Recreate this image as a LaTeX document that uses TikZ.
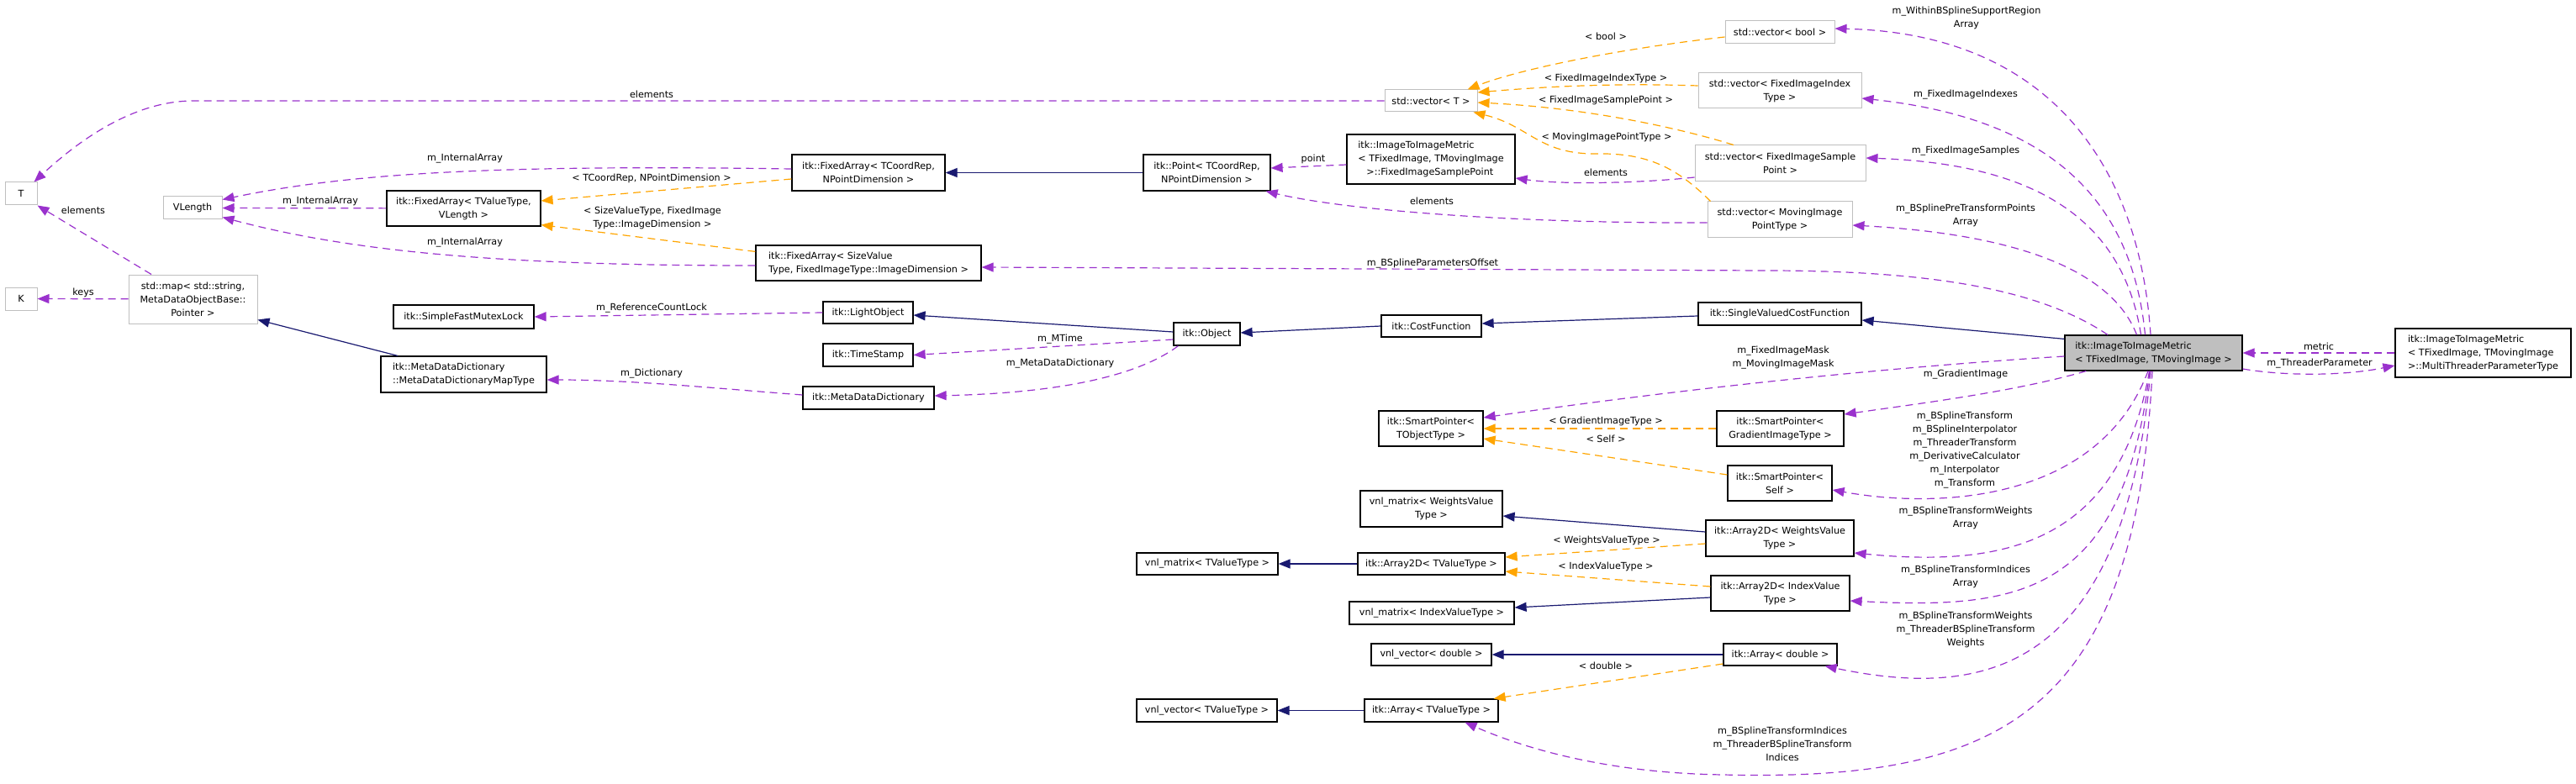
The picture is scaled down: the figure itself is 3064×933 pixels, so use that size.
\documentclass[tikz,border=0pt]{standalone}
\usepackage{fontspec}
\setmainfont{DejaVu Sans}
\usepackage{tikz}
\usetikzlibrary{arrows.meta}
\usepackage{xcolor}
\definecolor{usecol}{HTML}{9A32CD}
\definecolor{tplcol}{HTML}{FFA500}
\definecolor{inhcol}{HTML}{191970}
\definecolor{boxgray}{HTML}{BFBFBF}
\newcommand{\dgfont}{\fontsize{11.2}{16}\selectfont}

\begin{document}
\begin{tikzpicture}[x=1pt,y=-1pt,
  cls/.style={draw=black,line width=1.2pt,fill=white,font=\dgfont,align=center,inner xsep=2pt,inner ysep=0pt,minimum height=27pt},
  ext/.style={cls,draw=boxgray,line width=1pt},
  cur/.style={cls,fill=boxgray},
  lbl/.style={font=\dgfont,align=center,inner sep=0pt},
  usedge/.style={usecol,line width=1.2pt,dash pattern=on 9pt off 6pt,-{Triangle[length=14pt,width=11pt]}},
  tpledge/.style={usedge,tplcol},
  inhedge/.style={inhcol,line width=1.2pt,-{Triangle[length=14pt,width=11pt]}}]
  \useasboundingbox (0,0) rectangle (3064,933);

  % Left columns
  \node[ext,minimum width=38pt] (T) at (25,230.5) {T};
  \node[ext,minimum width=38pt] (K) at (25,355.5) {K};
  \node[ext,minimum width=70pt] (VL) at (229,247.5) {VLength};
  \node[ext,minimum width=153pt,minimum height=58pt] (map) at (229.5,356) {std::map< std::string,\\MetaDataObjectBase::\\Pointer >};
  \node[cls,minimum width=183pt,minimum height=42pt] (FAtv) at (551.5,248) {itk::FixedArray< TValueType,\\VLength >};
  \node[cls,minimum width=167pt,minimum height=28pt] (SFML) at (551.5,377) {itk::SimpleFastMutexLock};
  \node[cls,minimum width=197pt,minimum height=43pt,align=left] (MapT) at (551.5,445.5) {itk::MetaDataDictionary\\::MetaDataDictionaryMapType};
  \node[cls,minimum width=182pt,minimum height=43pt] (FAcr) at (1033,205.5) {itk::FixedArray< TCoordRep,\\NPointDimension >};
  \node[cls,minimum width=268pt,minimum height=42pt,align=left] (FAsv) at (1033,313) {itk::FixedArray< SizeValue\\Type, FixedImageType::ImageDimension >};
  \node[cls,minimum width=107pt,minimum height=26pt] (LO) at (1032.5,372) {itk::LightObject};
  \node[cls,minimum width=107pt] (TS) at (1032.5,422.5) {itk::TimeStamp};
  \node[cls,minimum width=156pt] (MDD) at (1033,473.5) {itk::MetaDataDictionary};

  % Middle columns
  \node[cls,minimum width=151pt,minimum height=43pt] (Pt) at (1435.5,205.5) {itk::Point< TCoordRep,\\NPointDimension >};
  \node[cls,minimum width=79pt] (Obj) at (1435.5,397.5) {itk::Object};
  \node[cls,minimum width=168pt,minimum height=26pt] (vmT) at (1436,671) {vnl\_matrix< TValueType >};
  \node[cls,minimum width=167pt] (vvT) at (1435.5,845.5) {vnl\_vector< TValueType >};
  \node[ext,minimum width=110pt,minimum height=26pt] (vecT) at (1702,120) {std::vector< T >};
  \node[cls,minimum width=200pt,minimum height=59pt,align=left] (FISP) at (1702,189.5) {itk::ImageToImageMetric\\< TFixedImage, TMovingImage\\\hspace*{0.9em}>::FixedImageSamplePoint};
  \node[cls,minimum width=119pt,minimum height=26pt] (CF) at (1702.5,388) {itk::CostFunction};
  \node[cls,minimum width=124pt,minimum height=42pt] (SPtot) at (1702,510) {itk::SmartPointer<\\TObjectType >};
  \node[cls,minimum width=169pt,minimum height=43pt] (vmW) at (1702.5,605.5) {vnl\_matrix< WeightsValue\\Type >};
  \node[cls,minimum width=175pt,minimum height=26pt] (A2tv) at (1702.5,671) {itk::Array2D< TValueType >};
  \node[cls,minimum width=196pt] (vmI) at (1703,729.5) {vnl\_matrix< IndexValueType >};
  \node[cls,minimum width=143pt,minimum height=26pt] (vvD) at (1702.5,779) {vnl\_vector< double >};
  \node[cls,minimum width=159pt] (Atv) at (1702.5,845.5) {itk::Array< TValueType >};

  % Right columns
  \node[ext,minimum width=130pt] (vB) at (2117,38.5) {std::vector< bool >};
  \node[ext,minimum width=194pt,minimum height=42pt] (vFI) at (2117,108) {std::vector< FixedImageIndex\\Type >};
  \node[ext,minimum width=203pt,minimum height=43pt] (vFS) at (2117.5,194.5) {std::vector< FixedImageSample\\Point >};
  \node[ext,minimum width=172pt,minimum height=43pt] (vMP) at (2117,261.5) {std::vector< MovingImage\\PointType >};
  \node[cls,minimum width=194pt] (SVCF) at (2117,373.5) {itk::SingleValuedCostFunction};
  \node[cls,minimum width=151pt,minimum height=42pt] (SPg) at (2117.5,510) {itk::SmartPointer<\\GradientImageType >};
  \node[cls,minimum width=124pt,minimum height=42pt] (SPs) at (2117,575) {itk::SmartPointer<\\Self >};
  \node[cls,minimum width=176pt,minimum height=43pt] (A2w) at (2117,640.5) {itk::Array2D< WeightsValue\\Type >};
  \node[cls,minimum width=165pt,minimum height=42pt] (A2i) at (2117.5,706) {itk::Array2D< IndexValue\\Type >};
  \node[cls,minimum width=135pt,minimum height=26pt] (Ad) at (2117.5,779) {itk::Array< double >};
  \node[cur,minimum width=211pt,minimum height=42pt,align=left] (main) at (2561.5,420) {itk::ImageToImageMetric\\< TFixedImage, TMovingImage >};
  \node[cls,minimum width=209pt,minimum height=58pt,align=left] (MT) at (2953.5,420) {itk::ImageToImageMetric\\< TFixedImage, TMovingImage\\>::MultiThreaderParameterType};

  % inheritance
  \draw[inhedge] (Pt) -- (FAcr);
  \draw[inhedge] ([xshift=-78.5pt]MapT.north) -- ([yshift=5pt]map.south east);
  \draw[inhedge] ([yshift=2.5pt]Obj.west) -- ([yshift=-3pt]LO.east);
  \draw[inhedge] (CF.west) -- ([yshift=1.5pt]Obj.east);
  \draw[inhedge] ([yshift=-2.5pt]SVCF.west) -- ([yshift=3pt]CF.east);
  \draw[inhedge] ([yshift=-5pt]main.north west) -- ([yshift=-7.5pt]SVCF.east);
  \draw[inhedge] ([yshift=7.5pt]A2w.west) -- ([yshift=-8.5pt]vmW.east);
  \draw[inhedge] (A2tv) -- (vmT);
  \draw[inhedge] ([yshift=-5pt]A2i.west) -- ([yshift=6.5pt]vmI.east);
  \draw[inhedge] (Ad) -- (vvD);
  \draw[inhedge] (Atv) -- (vvT);

  % template instances
  \draw[tpledge] ([yshift=-7.5pt]FAcr.west) -- ([yshift=9pt]FAtv.east);
  \draw[tpledge] ([yshift=-8pt]FAsv.north west) -- ([yshift=2pt]FAtv.south east);
  \draw[tpledge] ([yshift=-5.5pt]vB.west) .. controls (1910,60) and (1800,85) .. ([xshift=-12pt]vecT.north east);
  \draw[tpledge] ([yshift=6pt]vFI.west) .. controls (1930,99) and (1850,102) .. ([yshift=10pt]vecT.east);
  \draw[tpledge] ([xshift=-55.5pt]vFS.north) .. controls (1990,150) and (1880,128) .. ([yshift=-2pt]vecT.east);
  \draw[tpledge] ([xshift=4pt]vMP.north west) .. controls (1995,200) and (1960,182) .. (1900,183) .. controls (1830,184) and (1820,150) .. ([xshift=-5pt]vecT.south east);
  \draw[tpledge] (SPg) -- (SPtot);
  \draw[tpledge] ([yshift=10pt]SPs.west) -- ([yshift=-12pt]SPtot.east);
  \draw[tpledge] ([yshift=-6.5pt]A2w.west) -- ([yshift=8pt]A2tv.east);
  \draw[tpledge] ([yshift=8pt]A2i.west) -- ([yshift=-9pt]A2tv.east);
  \draw[tpledge] ([yshift=-11pt]Ad.west) -- ([xshift=-6pt]Atv.north east);

  % usage, left part
  \draw[usedge] (FAtv) -- (VL);
  \draw[usedge] ([yshift=4.5pt]FAcr.west) .. controls (600,196) and (420,205) .. ([yshift=-4pt]VL.north east);
  \draw[usedge] ([yshift=-3pt]FAsv.west) .. controls (600,316) and (420,300) .. ([yshift=3pt]VL.south east);
  \draw[usedge] (vecT.west) -- (230,120) .. controls (150,120) and (80,180) .. ([xshift=-4pt]T.north east);
  \draw[usedge] ([xshift=-49.5pt]map.north) -- (T.south east);
  \draw[usedge] (map) -- (K);
  \draw[usedge] ([yshift=3.5pt]MDD.west) .. controls (850,462) and (750,452) .. ([yshift=-6.5pt]MapT.east);
  \draw[usedge] (LO.west) -- (SFML.east);
  \draw[usedge] ([yshift=-6.5pt]Obj.west) -- (TS.east);
  \draw[usedge] ([xshift=6pt]Obj.south west) .. controls (1350,450) and (1250,468) .. ([yshift=2.5pt]MDD.east);
  \draw[usedge] ([yshift=-6.5pt]FISP.west) -- ([yshift=5.5pt]Pt.east);
  \draw[usedge] ([yshift=-3.5pt]vMP.west) .. controls (1800,266) and (1600,250) .. ([xshift=-6pt]Pt.south east);
  \draw[usedge] ([yshift=-16.5pt]vFS.west) .. controls (1950,218) and (1860,220) .. ([yshift=-22.5pt]FISP.east);

  % usage, from the metric
  \draw[usedge] ([xshift=-3.5pt]main.north) .. controls (2545,200) and (2440,40) .. ([yshift=4.5pt]vB.east);
  \draw[usedge] ([xshift=-10pt]main.north) .. controls (2535,230) and (2430,140) .. ([yshift=-9pt]vFI.east);
  \draw[usedge] ([xshift=-15pt]main.north) .. controls (2525,260) and (2420,195) .. ([yshift=6.5pt]vFS.east);
  \draw[usedge] ([xshift=-20pt]main.north) .. controls (2515,330) and (2420,280) .. ([yshift=-6.5pt]vMP.east);
  \draw[usedge] ([xshift=-54.5pt]main.north) .. controls (2420,340) and (2280,322) .. (2100,322) -- ([yshift=-5pt]FAsv.east);
  \draw[usedge] ([yshift=-4pt]main.west) .. controls (2200,440) and (1950,470) .. ([yshift=13pt]SPtot.east);
  \draw[usedge] ([xshift=26pt]main.south west) .. controls (2400,465) and (2300,478) .. ([yshift=17pt]SPg.east);
  \draw[usedge] ([xshift=-6.5pt]main.south) .. controls (2495,600) and (2300,605) .. ([yshift=-8pt]SPs.east);
  \draw[usedge] ([xshift=-5pt]main.south) .. controls (2520,650) and (2380,675) .. ([yshift=-17.5pt]A2w.east);
  \draw[usedge] ([xshift=-4.5pt]main.south) .. controls (2525,710) and (2400,725) .. ([yshift=-9pt]A2i.east);
  \draw[usedge] ([xshift=-3.5pt]main.south) .. controls (2525,810) and (2350,830) .. ([xshift=-15pt]Ad.south east);
  \draw[usedge] ([xshift=-1.5pt]main.south) .. controls (2540,850) and (2380,930) .. (2050,922) .. controls (1900,920) and (1800,885) .. ([xshift=40pt]Atv.south);
  \draw[usedge] ([yshift=-19pt]main.east) .. controls (2720,448) and (2790,447) .. ([yshift=-15pt]MT.west);
  \draw[usedge] (MT) -- (main);

  % labels
  \node[lbl] (lIntA) at (381,240) {m\_InternalArray};
  \node[lbl] (lIntB) at (553,189) {m\_InternalArray};
  \node[lbl] (lIntC) at (553,289) {m\_InternalArray};
  \node[lbl] (lCoord) at (775,212) {< TCoordRep, NPointDimension >};
  \node[lbl] (lSize) at (776,259) {< SizeValueType, FixedImage\\Type::ImageDimension >};
  \node[lbl] (lElemT) at (775,112) {elements};
  \node[lbl] (lElemMap) at (99,250) {elements};
  \node[lbl] (lKeys) at (99,348) {keys};
  \node[lbl] (lLock) at (775,367) {m\_ReferenceCountLock};
  \node[lbl] (lDict) at (775,445) {m\_Dictionary};
  \node[lbl] (lMTime) at (1261,404) {m\_MTime};
  \node[lbl] (lMDD) at (1261,433) {m\_MetaDataDictionary};
  \node[lbl] (lPoint) at (1562,189) {point};
  \node[lbl] (lElemPt) at (1703,239) {elements};
  \node[lbl] (lElemFS) at (1910,205) {elements};
  \node[lbl] (lBool) at (1910,43) {< bool >};
  \node[lbl] (lFII) at (1910,93) {< FixedImageIndexType >};
  \node[lbl] (lFIS) at (1910,119) {< FixedImageSamplePoint >};
  \node[lbl] (lMIP) at (1911,163) {< MovingImagePointType >};
  \node[lbl] (lOffset) at (1704,314) {m\_BSplineParametersOffset};
  \node[lbl] (lWithin) at (2339,21) {m\_WithinBSplineSupportRegion\\Array};
  \node[lbl] (lIdx) at (2338,113) {m\_FixedImageIndexes};
  \node[lbl] (lSmp) at (2338,180) {m\_FixedImageSamples};
  \node[lbl] (lPre) at (2338,256) {m\_BSplinePreTransformPoints\\Array};
  \node[lbl] (lMask) at (2121,426) {m\_FixedImageMask\\m\_MovingImageMask};
  \node[lbl] (lGrad) at (2338,446) {m\_GradientImage};
  \node[lbl] (lSelf) at (2337,536) {m\_BSplineTransform\\m\_BSplineInterpolator\\m\_ThreaderTransform\\m\_DerivativeCalculator\\m\_Interpolator\\m\_Transform};
  \node[lbl] (lWA) at (2338,616) {m\_BSplineTransformWeights\\Array};
  \node[lbl] (lIA) at (2338,686) {m\_BSplineTransformIndices\\Array};
  \node[lbl] (lW) at (2338,749) {m\_BSplineTransformWeights\\m\_ThreaderBSplineTransform\\Weights};
  \node[lbl] (lI) at (2120,885) {m\_BSplineTransformIndices\\m\_ThreaderBSplineTransform\\Indices};
  \node[lbl] (lThr) at (2759,433) {m\_ThreaderParameter};
  \node[lbl] (lMetric) at (2758,412) {metric};
  \node[lbl] (lGIT) at (1910,501) {< GradientImageType >};
  \node[lbl] (lSelfT) at (1910,522) {< Self >};
  \node[lbl] (lWVT) at (1911,643) {< WeightsValueType >};
  \node[lbl] (lIVT) at (1910,674) {< IndexValueType >};
  \node[lbl] (lDbl) at (1910,792) {< double >};
\end{tikzpicture}
\end{document}
